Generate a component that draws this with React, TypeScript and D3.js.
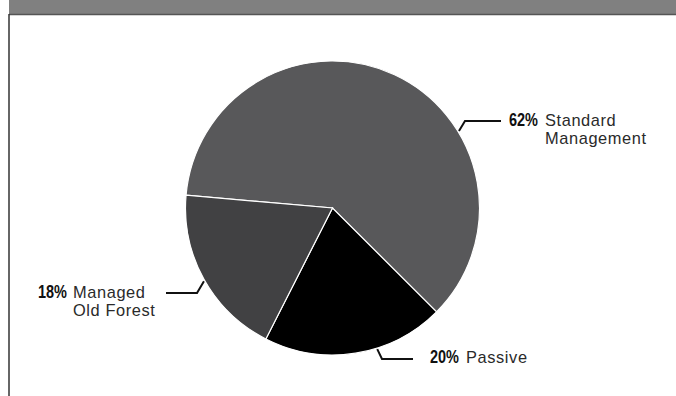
import React from "react";
import * as d3 from "d3";

const categories = ["Standard Management", "Passive", "Managed Old Forest"];
// slice sizes as drawn in the picture (degrees / 3.6)
const values = [61.1, 20, 18.9];
// percentages as printed on the labels
const pctLabels = ["62%", "20%", "18%"];
const labelLines = [["Standard", "Management"], ["Passive"], ["Managed", "Old Forest"]];
const colors = ["#58585a", "#000000", "#414143"];

const W = 676;
const H = 396;
const cx = 332.5;
const cy = 208;
const R = 147;
const START_DEG = -85;

// leader layout: anchor angle (deg, clockwise from 12 o'clock), elbow, end, text position
const leaders = [
  { angle: 58.7, elbow: [465, 121], end: [501, 121], pctX: 509, textX: 545, baseY: 126 },
  { angle: 162.4, elbow: [382, 359], end: [413, 359], pctX: 430, textX: 466, baseY: 363 },
  { angle: 240.3, elbow: [197, 293], end: [166, 293], pctX: 38, textX: 73, baseY: 298 },
];

export default function App() {
  const pie = d3
    .pie<number>()
    .sort(null)
    .value((d) => d)
    .startAngle((START_DEG * Math.PI) / 180)
    .endAngle(((360 + START_DEG) * Math.PI) / 180);
  const arcs = pie(values);
  const arc = d3.arc<d3.PieArcDatum<number>>().innerRadius(0).outerRadius(R);

  return (
    <svg
      width={W}
      height={H}
      style={{ position: "absolute", left: 0, top: 0, background: "#fff" }}
      fontFamily="'Liberation Sans', Arial, sans-serif"
    >
      <rect x={9} y={0} width={W - 9} height={14} fill="#808080" />
      <line x1={9} y1={14.5} x2={W} y2={14.5} stroke="#555" strokeWidth={1.5} />
      <line x1={9} y1={14} x2={9} y2={H} stroke="#333" strokeWidth={1.5} />
      <g transform={`translate(${cx},${cy})`}>
        {arcs.map((a, i) => (
          <path key={categories[i]} d={arc(a) || ""} fill={colors[i]} stroke="#fff" strokeWidth={1.2} />
        ))}
      </g>
      {leaders.map((l, i) => {
        const t = (l.angle * Math.PI) / 180;
        const sx = cx + (R + 1) * Math.sin(t);
        const sy = cy - (R + 1) * Math.cos(t);
        return (
          <g key={categories[i]}>
            <polyline
              points={`${sx},${sy} ${l.elbow[0]},${l.elbow[1]} ${l.end[0]},${l.end[1]}`}
              fill="none"
              stroke="#111"
              strokeWidth={2}
            />
            <text
              x={l.pctX}
              y={l.baseY}
              fontSize={17.5}
              fontWeight="bold"
              textLength={29}
              lengthAdjust="spacingAndGlyphs"
              fill="#111"
            >
              {pctLabels[i]}
            </text>
            {labelLines[i].map((ln, j) => (
              <text
                key={ln}
                x={l.textX}
                y={l.baseY + j * 18.4}
                fontSize={16.4}
                letterSpacing={0.6}
                fill="#2a2a2a"
              >
                {ln}
              </text>
            ))}
          </g>
        );
      })}
    </svg>
  );
}
